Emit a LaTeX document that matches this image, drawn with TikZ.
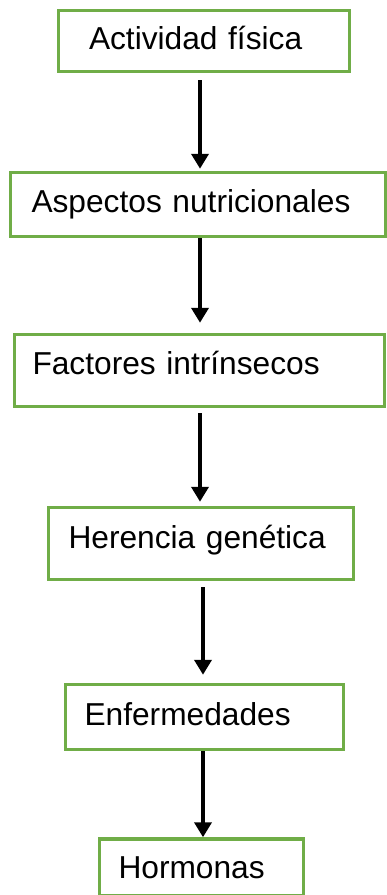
\documentclass[tikz,border=0pt]{standalone}
\usepackage{fontspec}
\setmainfont{Liberation Sans}
\usetikzlibrary{arrows.meta}
\definecolor{verdecaja}{HTML}{70AD47}
\tikzset{
  caja/.style={draw=verdecaja, line width=3.5pt, inner xsep=20pt, inner ysep=0pt,
    align=left, text height=22.7pt, text depth=6pt,
    font=\fontsize{31.7}{38}\selectfont},
  flecha/.style={line width=4pt, -{Triangle[length=15pt,width=17pt]}}
}
\begin{document}
\begin{tikzpicture}[x=1pt,y=-1pt]
\useasboundingbox (0,0) rectangle (387,895);
\node[caja, inner xsep=30.5pt, text width=230pt, minimum height=61pt] (actividad) at (204,41) {Actividad física};
\node[caja, inner xsep=21pt, text width=333pt, minimum height=64pt] (nutricion) at (198,204.5) {Aspectos nutricionales};
\node[caja, inner xsep=18pt, text width=334pt, minimum height=72pt, text depth=14pt] (intrinsecos) at (199.5,370.5) {Factores intrínsecos};
\node[caja, inner xsep=20pt, text width=265pt, minimum height=72pt, text depth=12pt] (herencia) at (201,543.5) {Herencia genética};
\node[caja, inner xsep=19pt, text width=240pt, minimum height=65pt] (enfermedades) at (204.5,717) {Enfermedades};
\node[caja, inner xsep=19pt, text width=166pt, minimum height=57pt, text depth=0pt] (hormonas) at (201.5,867.5) {Hormonas};
\coordinate (ejeA) at (200,0);
\coordinate (ejeB) at (203,0);
\draw[flecha, shorten <=7pt, shorten >=2pt] (actividad.south -| ejeA) -- (nutricion.north -| ejeA);
\draw[flecha, shorten >=10pt] (nutricion.south -| ejeA) -- (intrinsecos.north -| ejeA);
\draw[flecha, shorten <=5pt, shorten >=4pt] (intrinsecos.south -| ejeA) -- (herencia.north -| ejeA);
\draw[flecha, shorten <=6pt, shorten >=8pt] (herencia.south -| ejeB) -- (enfermedades.north -| ejeB);
\draw[flecha] (enfermedades.south -| ejeB) -- (hormonas.north -| ejeB);
\end{tikzpicture}
\end{document}
